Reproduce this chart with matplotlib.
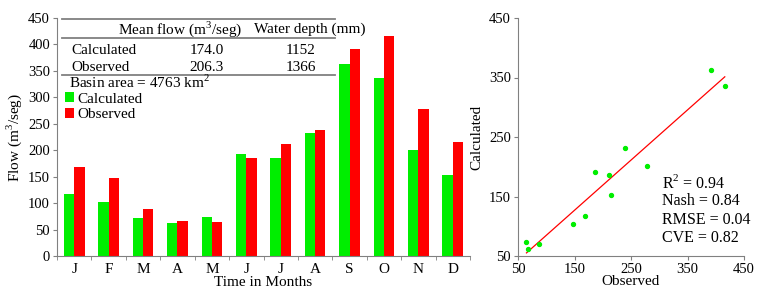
import numpy as np
import matplotlib
matplotlib.use('Agg')
import matplotlib.pyplot as plt

plt.rcParams['font.family'] = ['Liberation Serif', 'DejaVu Serif']
plt.rcParams['mathtext.fontset'] = 'custom'
plt.rcParams['mathtext.rm'] = 'Liberation Serif'
plt.rcParams['font.size'] = 11

months = ['J', 'F', 'M', 'A', 'M', 'J', 'J', 'A', 'S', 'O', 'N', 'D']
calculated = [117, 103, 71, 62, 73, 192, 186, 232, 363, 336, 201, 153]
observed = [168, 148, 88, 67, 65, 186, 211, 239, 391, 416, 278, 215]

table_rows = ['Calculated', 'Observed']
mean_flow = ['174.0', '206.3']
water_depth = ['1152', '1366']
stats = ['R$^2$ = 0.94', 'Nash = 0.84', 'RMSE = 0.04', 'CVE = 0.82']

gray = '#808080'
green = '#00ee00'
red = '#ff0000'

fig = plt.figure(figsize=(7.63, 2.9), dpi=100)

# bar chart
ax = fig.add_axes([57 / 763, 34 / 290, 413 / 763, 238 / 290])
x = np.arange(len(months))
w = 0.3
ax.bar(x - w / 2, calculated, w, color=green, label='Calculated')
ax.bar(x + w / 2, observed, w, color=red, label='Observed')
ax.set_xlim(-0.5, 11.5)
ax.set_ylim(0, 450)
ax.set_yticks(range(0, 451, 50))
ax.set_xticks(x)
ax.set_xticklabels(months, fontsize=11)
ax.tick_params(axis='x', which='major', length=0, pad=5)
ax.set_xticks(np.arange(-0.5, 12, 1), minor=True)
ax.tick_params(axis='x', which='minor', length=3, color=gray)
ax.tick_params(axis='y', length=3, color=gray, pad=2, labelsize=10.5)
for s in ['top', 'right']:
    ax.spines[s].set_visible(False)
for s in ['left', 'bottom']:
    ax.spines[s].set_color(gray)
ax.set_ylabel('Flow (m$^3$/seg)', labelpad=3)
ax.set_xlabel('Time in Months', labelpad=0)

# table inside the chart
for yy in [0.995, 0.916, 0.76]:
    ax.plot([0.012, 0.673], [yy, yy], transform=ax.transAxes, color=gray, lw=1.3, clip_on=False)
ax.text(0.298, 0.953, 'Mean flow (m$^3$/seg)', transform=ax.transAxes, ha='center', va='center')
ax.text(0.613, 0.953, 'Water depth (mm)', transform=ax.transAxes, ha='center', va='center')
for i, yy in enumerate([0.865, 0.79]):
    ax.text(0.036, yy, table_rows[i], transform=ax.transAxes, ha='left', va='center')
    ax.text(0.363, yy, mean_flow[i], transform=ax.transAxes, ha='center', va='center')
    ax.text(0.591, yy, water_depth[i], transform=ax.transAxes, ha='center', va='center')
ax.text(0.029, 0.73, 'Basin area = 4763 km$^2$', transform=ax.transAxes, ha='left', va='center')
ax.legend(loc='upper left', bbox_to_anchor=(0.012, 0.70), frameon=False,
          handlelength=0.6, handleheight=0.6, handletextpad=0.2,
          labelspacing=0.15, borderaxespad=0, borderpad=0.2)

# scatter
ax2 = fig.add_axes([518 / 763, 34 / 290, 226 / 763, 238 / 290])
ax2.scatter(observed, calculated, s=8, color=green, zorder=3)
slope, icpt = np.polyfit(observed, calculated, 1)
xs = np.array([min(observed), max(observed)])
ax2.plot(xs, slope * xs + icpt, color=red, lw=0.9)
ax2.set_xlim(50, 450)
ax2.set_ylim(50, 450)
ax2.set_xticks(range(50, 451, 100))
ax2.set_yticks(range(50, 451, 100))
ax2.tick_params(length=3, color=gray, pad=2, labelsize=10.5)
for s in ['top', 'right']:
    ax2.spines[s].set_visible(False)
for s in ['left', 'bottom']:
    ax2.spines[s].set_color(gray)
ax2.set_xlabel('Observed', labelpad=-1)
ax2.set_ylabel('Calculated', labelpad=4)
for i, t in enumerate(stats):
    ax2.text(0.636, 0.307 - i * 0.077, t, transform=ax2.transAxes, ha='left', va='center',
             fontsize=11.5)

fig.savefig('out.png', dpi=100)
